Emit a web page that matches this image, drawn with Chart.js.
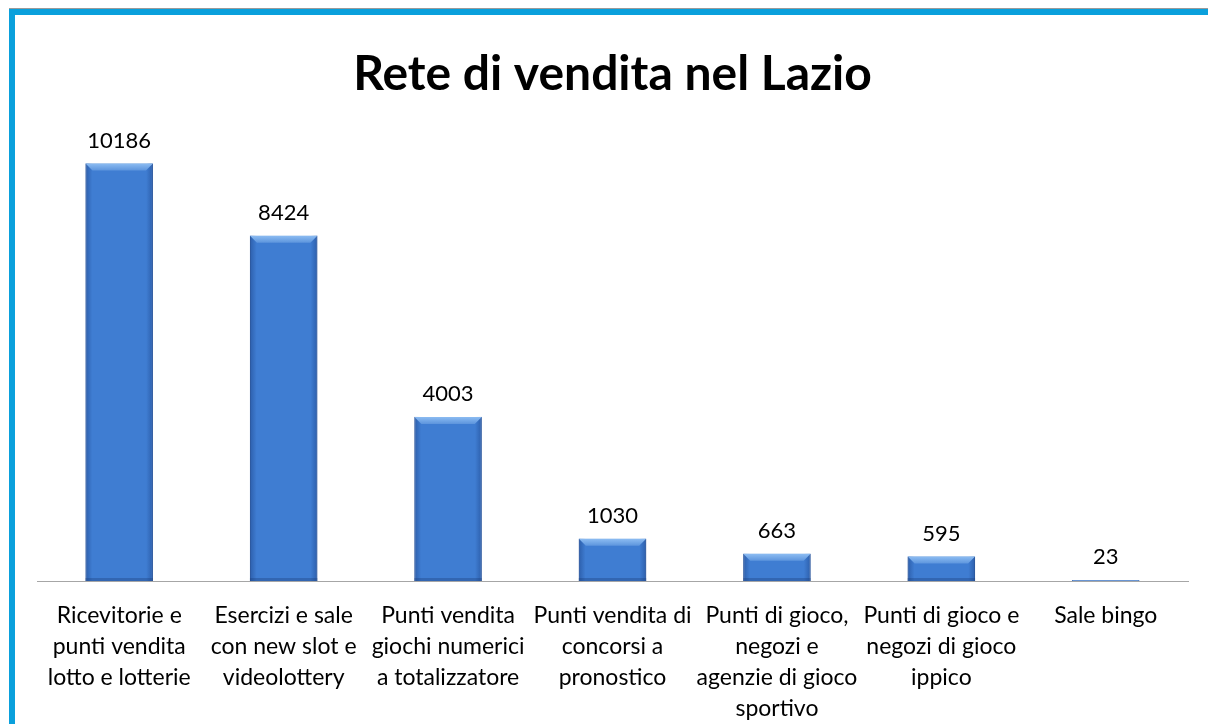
<!DOCTYPE html>
<html lang="it">
  <head>
    <meta charset="UTF-8" />
    <title>Rete di vendita nel Lazio</title>
    <style>
      body {
        margin: 0;
        background-color: #ffffff;
        width: 1208px;
        height: 724px;
        overflow: hidden;
      }
      #wrap {
        position: absolute;
        left: 0;
        top: 0;
        width: 1208px;
        height: 724px;
      }
      .frame {
        position: absolute;
        left: 9px;
        top: 9px;
        right: 0;
        bottom: 0;
        border-left: 6px solid #0AA0DC;
        border-top: 6px solid #0AA0DC;
        box-shadow: 0 -1px 0 #9a9a9a;
        pointer-events: none;
      }
    </style>
    <script src="https://cdn.jsdelivr.net/npm/chart.js"></script>
  </head>
  <body>
    <div id="wrap">
      <canvas id="chart" width="1208" height="724"></canvas>
    </div>
    <div class="frame"></div>
    <script>
      // dati
      const categories = [
        ["Ricevitorie e", "punti vendita", "lotto e lotterie"],
        ["Esercizi e sale", "con new slot e", "videolottery"],
        ["Punti vendita", "giochi numerici", "a totalizzatore"],
        ["Punti vendita di", "concorsi a", "pronostico"],
        ["Punti di gioco,", "negozi e", "agenzie di gioco", "sportivo"],
        ["Punti di gioco e", "negozi di gioco", "ippico"],
        ["Sale bingo"],
      ];
      const values = [10186, 8424, 4003, 1030, 663, 595, 23];
      const yMax = 11500;

      // etichette sopra le barre
      const valueLabels = {
        id: "valueLabels",
        afterDatasetsDraw(chart) {
          const ctx = chart.ctx;
          const meta = chart.getDatasetMeta(0);
          ctx.save();
          ctx.font = "22px Lato, 'Open Sans', sans-serif";
          ctx.fillStyle = "#000";
          ctx.textAlign = "center";
          ctx.textBaseline = "middle";
          meta.data.forEach((bar, i) => {
            const p = bar.getProps(["x", "y"], true);
            ctx.fillText(String(values[i]), p.x, p.y - 23);
          });
          ctx.restore();
        },
      };

      // effetto smussato delle barre
      const bevel = {
        id: "bevel",
        afterDatasetDraw(chart, args) {
          if (args.index !== 0) return;
          const ctx = chart.ctx;
          args.meta.data.forEach((bar) => {
            const p = bar.getProps(["x", "y", "width", "base"], true);
            const x0 = p.x - p.width / 2;
            const x1 = p.x + p.width / 2;
            const h = p.base - p.y;
            if (h < 3) return;
            const b = Math.min(7, h / 2);
            ctx.save();
            // lati scuri
            const g = ctx.createLinearGradient(x0, 0, x1, 0);
            g.addColorStop(0, "rgba(30,70,140,0.55)");
            g.addColorStop(0.1, "rgba(30,70,140,0.0)");
            g.addColorStop(0.9, "rgba(30,70,140,0.0)");
            g.addColorStop(1, "rgba(30,70,140,0.55)");
            ctx.fillStyle = g;
            ctx.fillRect(x0, p.y, p.width, h);
            // faccia superiore chiara
            ctx.beginPath();
            ctx.moveTo(x0, p.y);
            ctx.lineTo(x1, p.y);
            ctx.lineTo(x1 - b, p.y + b);
            ctx.lineTo(x0 + b, p.y + b);
            ctx.closePath();
            const gt = ctx.createLinearGradient(0, p.y, 0, p.y + b);
            gt.addColorStop(0, "#8cbcf2");
            gt.addColorStop(1, "#5d95dd");
            ctx.fillStyle = gt;
            ctx.fill();
            // fondo scuro
            ctx.fillStyle = "rgba(25,60,120,0.35)";
            ctx.fillRect(x0, p.base - 3, p.width, 3);
            ctx.restore();
          });
        },
      };

      const ctx = document.getElementById("chart").getContext("2d");
      const chart = new Chart(ctx, {
        type: "bar",
        data: {
          labels: categories,
          datasets: [
            {
              data: values,
              backgroundColor: "#3F7DD2",
              borderColor: "#2F63AE",
              borderWidth: 1,
              barPercentage: 0.41,
              categoryPercentage: 1.0,
            },
          ],
        },
        options: {
          responsive: false,
          animation: false,
          layout: {
            padding: { left: 37, right: 20, top: 30, bottom: 2 },
          },
          plugins: {
            legend: { display: false },
            tooltip: { enabled: false },
            title: {
              display: true,
              text: "Rete di vendita nel Lazio",
              color: "#000",
              font: { family: "Lato, 'Open Sans', sans-serif", size: 48, weight: "bold" },
              padding: { top: 16, bottom: 6 },
            },
          },
          scales: {
            x: {
              grid: { display: false, drawTicks: false },
              border: { display: true, color: "#A6A6A6", width: 1 },
              ticks: {
                color: "#000",
                autoSkip: false,
                maxRotation: 0,
                padding: 19,
                font: { family: "Lato, 'Open Sans', sans-serif", size: 23, lineHeight: 1.35 },
              },
              afterFit(scale) {
                scale.height = 141;
              },
            },
            y: {
              display: false,
              min: 0,
              max: yMax,
            },
          },
        },
        plugins: [bevel, valueLabels],
      });
    </script>
  </body>
</html>
